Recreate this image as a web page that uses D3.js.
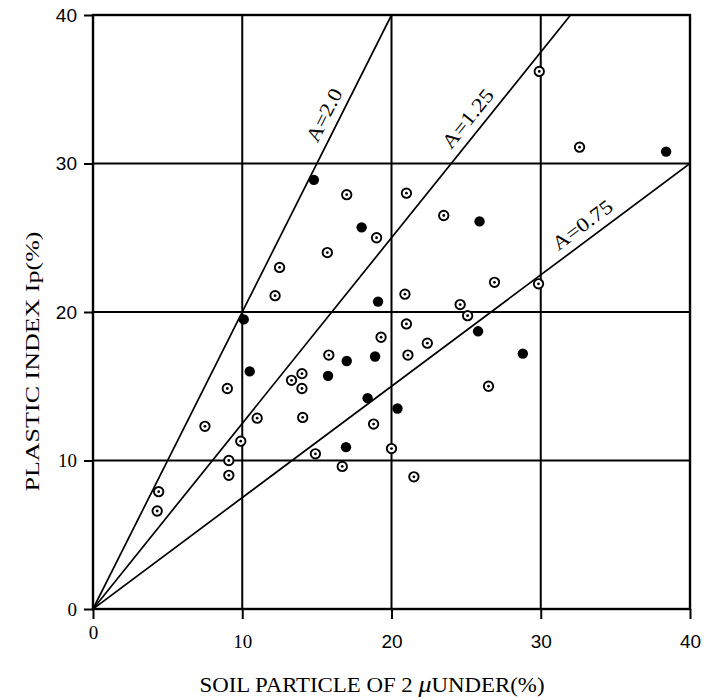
<!DOCTYPE html>
<html>
<head>
<meta charset="utf-8">
<script src="https://cdn.jsdelivr.net/npm/d3@7"></script>
<style>
  html, body { margin: 0; padding: 0; background: #fff; }
  svg { display: block; }
</style>
</head>
<body>
<svg id="chart" width="704" height="700"></svg>
<script>
// Clay fraction (<2 µm, %) vs plasticity index Ip (%), with activity lines A = Ip / clay.
const xTicks = [0, 10, 20, 30, 40];
const yTicks = [0, 10, 20, 30, 40];
const gridValues = [10, 20, 30];

// Solid markers
const solidX = [14.8, 18.0, 19.1, 10.1, 25.9, 38.4, 25.8, 28.8, 20.4, 17.0, 18.9, 10.5, 15.75, 18.4, 16.95];
const solidY = [28.9, 25.7, 20.7, 19.5, 26.1, 30.8, 18.7, 17.2, 13.5, 16.7, 17.0, 16.0, 15.7, 14.2, 10.9];

// Ringed (open with centre dot) markers
const ringX = [17.0, 19.0, 15.7, 12.5, 12.2, 19.3, 29.9, 32.6, 21.0, 23.5, 26.9, 29.85, 20.9, 24.6, 25.1,
               21.0, 22.4, 21.1, 26.5, 20.0, 21.5, 15.8, 14.0, 13.3, 14.0, 9.0, 11.0, 14.05, 7.5, 18.8,
               9.9, 14.9, 9.1, 16.7, 9.1, 4.4, 4.3];
const ringY = [27.9, 25.0, 24.0, 23.0, 21.1, 18.3, 36.2, 31.1, 28.0, 26.5, 22.0, 21.9, 21.2, 20.5, 19.75,
               19.2, 17.9, 17.1, 15.0, 10.8, 8.9, 17.1, 15.85, 15.4, 14.85, 14.85, 12.85, 12.9, 12.3, 12.45,
               11.3, 10.45, 10.0, 9.6, 9.0, 7.9, 6.6];

// Activity lines and where their labels sit (x position along each line)
const activity = [2.0, 1.25, 0.75];
const activityText = ["A=2.0", "A=1.25", "A=0.75"];
const activityLabelX = [16.4, 25.9, 33.4];

const serif = "'Liberation Serif', 'Times New Roman', serif";
const sans = "'Liberation Sans', Arial, sans-serif";

const svg = d3.select("#chart");
const x = d3.scaleLinear().domain([0, 40]).range([93, 690]);
const y = d3.scaleLinear().domain([0, 40]).range([609, 15]);

// Grid
const grid = svg.append("g").attr("stroke", "#000").attr("stroke-width", 2);
grid.selectAll("line.v").data(gridValues).join("line")
  .attr("x1", d => x(d)).attr("x2", d => x(d))
  .attr("y1", y(0)).attr("y2", y(40));
grid.selectAll("line.h").data(gridValues).join("line")
  .attr("y1", d => y(d)).attr("y2", d => y(d))
  .attr("x1", x(0)).attr("x2", x(40));

// Frame
svg.append("rect")
  .attr("x", x(0)).attr("y", y(40))
  .attr("width", x(40) - x(0)).attr("height", y(0) - y(40))
  .attr("fill", "none").attr("stroke", "#000").attr("stroke-width", 2.4);

// Axes
const xAxis = svg.append("g")
  .attr("transform", `translate(0,${y(0)})`)
  .call(d3.axisBottom(x).tickValues(xTicks).tickSize(10).tickSizeOuter(0).tickPadding(16));
const yAxis = svg.append("g")
  .attr("transform", `translate(${x(0)},0)`)
  .call(d3.axisLeft(y).tickValues(yTicks).tickSize(9).tickSizeOuter(0).tickPadding(7));
[xAxis, yAxis].forEach(a => {
  a.select(".domain").remove();
  a.selectAll(".tick line").attr("stroke", "#000").attr("stroke-width", 2);
  a.selectAll(".tick text")
    .attr("fill", "#000")
    .style("font-size", "19px")
    .style("font-family", d => d < 20 ? serif : sans);
});
// the origin label sits a little closer to the axis
xAxis.selectAll(".tick text").filter(d => d === 0).attr("y", 17);

// Activity lines, clipped to the plot
svg.append("clipPath").attr("id", "plotclip").append("rect")
  .attr("x", x(0)).attr("y", y(40))
  .attr("width", x(40) - x(0)).attr("height", y(0) - y(40));
const lineG = svg.append("g").attr("clip-path", "url(#plotclip)");
lineG.selectAll("line").data(activity).join("line")
  .attr("x1", x(0)).attr("y1", y(0))
  .attr("x2", d => x(Math.min(40, 40 / d)))
  .attr("y2", d => y(Math.min(40, 40 / d) * d))
  .attr("stroke", "#000").attr("stroke-width", 1.7);

svg.append("g").selectAll("text").data(activity).join("text")
  .attr("transform", (d, i) => {
    const px = x(activityLabelX[i]), py = y(activityLabelX[i] * d);
    const ang = Math.atan2(y(0) - y(10 * d), x(10) - x(0)) * 180 / Math.PI;
    return `translate(${px},${py}) rotate(${-ang})`;
  })
  .attr("y", -8.5)
  .attr("text-anchor", "middle")
  .attr("textLength", (d, i) => i === 0 ? 57 : 70)
  .attr("lengthAdjust", "spacingAndGlyphs")
  .style("font-family", serif)
  .style("font-size", "20px")
  .attr("fill", "#000")
  .text((d, i) => activityText[i]);

// Ringed markers
const ringData = ringX.map((v, i) => [v, ringY[i]]);
const rings = svg.append("g").selectAll("g").data(ringData).join("g")
  .attr("transform", d => `translate(${x(d[0])},${y(d[1])})`);
rings.append("circle").attr("r", 4.7).attr("fill", "#fff")
  .attr("stroke", "#000").attr("stroke-width", 1.9);
rings.append("circle").attr("r", 1.4).attr("fill", "#000");

// Solid markers
const solidData = solidX.map((v, i) => [v, solidY[i]]);
svg.append("g").selectAll("circle").data(solidData).join("circle")
  .attr("cx", d => x(d[0])).attr("cy", d => y(d[1]))
  .attr("r", 5.2).attr("fill", "#000");

// Axis titles
const xt = svg.append("text")
  .attr("x", 372).attr("y", 692)
  .attr("text-anchor", "middle")
  .attr("textLength", 345)
  .attr("lengthAdjust", "spacingAndGlyphs")
  .style("font-family", serif).style("font-size", "21px")
  .attr("fill", "#000");
xt.append("tspan").text("SOIL PARTICLE OF 2 ");
xt.append("tspan").style("font-style", "italic").style("font-size", "24px").text("\u03BC");
xt.append("tspan").text("UNDER(%)");

svg.append("text")
  .attr("transform", "translate(38.5,361.5) rotate(-90)")
  .attr("text-anchor", "middle")
  .attr("textLength", 260)
  .attr("lengthAdjust", "spacingAndGlyphs")
  .style("font-family", serif).style("font-size", "19px")
  .attr("fill", "#000")
  .text("PLASTIC INDEX Ip(%)");
</script>
</body>
</html>
